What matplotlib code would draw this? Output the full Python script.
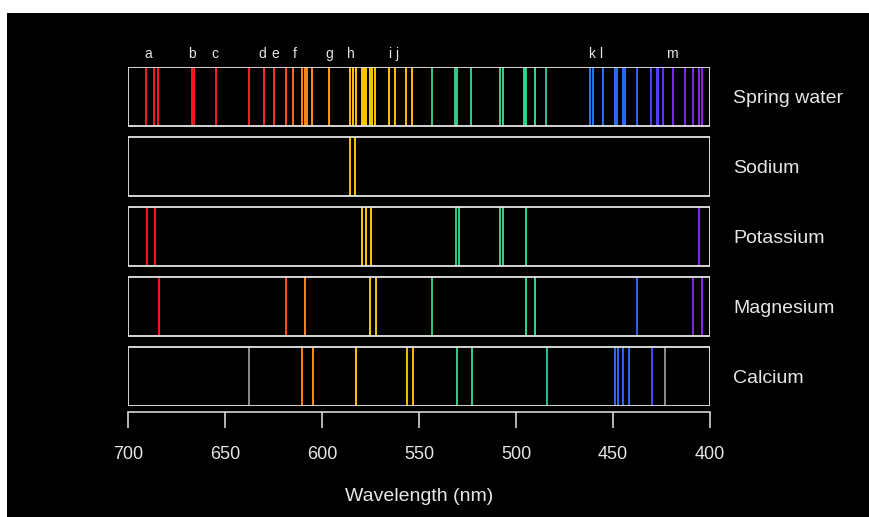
import numpy as np
import matplotlib
matplotlib.use("Agg")
import matplotlib.pyplot as plt
import matplotlib.transforms as mtransforms
from matplotlib.patches import Rectangle

plt.rcParams['font.family'] = ['Liberation Sans', 'DejaVu Sans']

# ------------------------------------------------
#  Data (wavelengths in nm)
# ------------------------------------------------
samples = ["Spring water", "Sodium", "Potassium", "Magnesium", "Calcium"]

spring_water = [690.7, 686.4, 684.4, 667.2, 666.0, 654.8, 637.5, 629.7, 624.6,
                618.7, 614.8, 610.5, 608.6, 607.9, 605.0, 596.4, 585.6, 584.2,
                582.6, 579.5, 578.2, 577.3, 575.3, 574.4, 572.5, 565.6, 562.2,
                556.7, 553.8, 543.1, 531.4, 530.3, 523.4, 508.2, 506.5, 495.9,
                495.0, 490.1, 484.7, 461.9, 460.2, 455.0, 449.0, 447.8, 445.0,
                443.8, 437.8, 430.6, 427.5, 426.7, 424.1, 419.2, 412.9, 408.6,
                405.5, 404.3]
sodium = [585.6, 582.9]
potassium = [690.0, 686.3, 579.5, 577.5, 574.9, 531.1, 529.4, 508.2, 506.5,
             495.0, 405.5]
magnesium = [684.0, 618.7, 608.8, 575.3, 572.3, 543.1, 495.0, 490.2, 437.8,
             408.6, 404.3]
calcium = [637.5, 610.2, 604.8, 582.5, 556.3, 553.3, 530.6, 522.8, 484.2,
           449.0, 447.3, 444.7, 441.6, 430.0, 423.2]

# faint grey lines in the calcium spectrum
calcium_grey = [637.5, 423.2]

letters = ["a", "b", "c", "d", "e", "f", "g", "h", "i", "j", "k", "l", "m"]
letter_nm = [689.7, 667.0, 655.2, 631.0, 624.2, 613.9, 596.4, 585.0, 565.0,
             561.3, 460.8, 456.2, 419.6]

ticks_nm = [700, 650, 600, 550, 500, 450, 400]

# ------------------------------------------------
#  Colour of a line from its wavelength
# ------------------------------------------------
anchor_nm = [400, 412, 420, 428, 440, 460, 475, 490, 520, 545, 550, 560,
             580, 595, 612, 622, 640, 700]
anchor_rgb = np.array([
    [0.55, 0.15, 0.95], [0.50, 0.15, 0.95], [0.48, 0.15, 1.00],
    [0.30, 0.25, 1.00], [0.17, 0.40, 1.00], [0.15, 0.45, 0.95],
    [0.15, 0.60, 0.70], [0.20, 0.85, 0.55], [0.20, 0.80, 0.55],
    [0.20, 0.78, 0.50], [1.00, 0.72, 0.00], [1.00, 0.72, 0.00],
    [1.00, 0.80, 0.00], [1.00, 0.62, 0.05], [1.00, 0.50, 0.10],
    [1.00, 0.20, 0.15], [1.00, 0.10, 0.12], [1.00, 0.08, 0.12]])


def line_color(nm):
    return tuple(np.interp(nm, anchor_nm, anchor_rgb[:, c]) for c in range(3))


# ------------------------------------------------
#  Figure
# ------------------------------------------------
W, H = 869, 517
fig = plt.figure(figsize=(W / 100, H / 100), dpi=100, facecolor="white")
fig.patches.append(Rectangle((7 / W, 0), 1, 1 - 13 / H, transform=fig.transFigure,
                             facecolor="black", edgecolor="none", zorder=-10))

ax = fig.add_axes([128 / W, 1 - 406 / H, (710 - 128) / W, (406 - 67) / H])
ax.set_facecolor("none")

fg = "#e6e6e6"
box_h = 0.85
ax.set_xlim(700, 400)
ax.set_ylim(0, 4 + box_h)
label_tr = mtransforms.blended_transform_factory(ax.transAxes, ax.transData)

spectra = [spring_water, sodium, potassium, magnesium, calcium]
for i, (name, lines) in enumerate(zip(samples, spectra)):
    y0 = 4 - i
    for nm in lines:
        col = line_color(nm)
        if lines is calcium and nm in calcium_grey:
            col = "#8a8a8a"
        ax.vlines(nm, y0, y0 + box_h, color=col, lw=1.4, zorder=2)
    ax.add_patch(Rectangle((700, y0), -300, box_h, facecolor="none",
                           edgecolor=fg, lw=1.3, zorder=3))
    ax.text(1.04, y0 + box_h / 2 - 0.03, name, transform=label_tr,
            ha="left", va="center", color=fg, fontsize=14)

for lab, nm in zip(letters, letter_nm):
    ax.text(nm, 4 + box_h + 0.18, lab, ha="center", va="center", color=fg,
            fontsize=10)

for s in ["top", "left", "right"]:
    ax.spines[s].set_visible(False)
ax.spines["bottom"].set_position(("outward", 4))
ax.spines["bottom"].set_color(fg)
ax.spines["bottom"].set_linewidth(1.1)
ax.set_yticks([])
ax.set_xticks(ticks_nm)
ax.tick_params(axis="x", colors=fg, length=11.5, width=1.1, pad=13.5,
               labelsize=13)
ax.set_xlabel("Wavelength (nm)", color=fg, fontsize=14, labelpad=18)

fig.savefig("out.png", dpi=100, facecolor="white")
